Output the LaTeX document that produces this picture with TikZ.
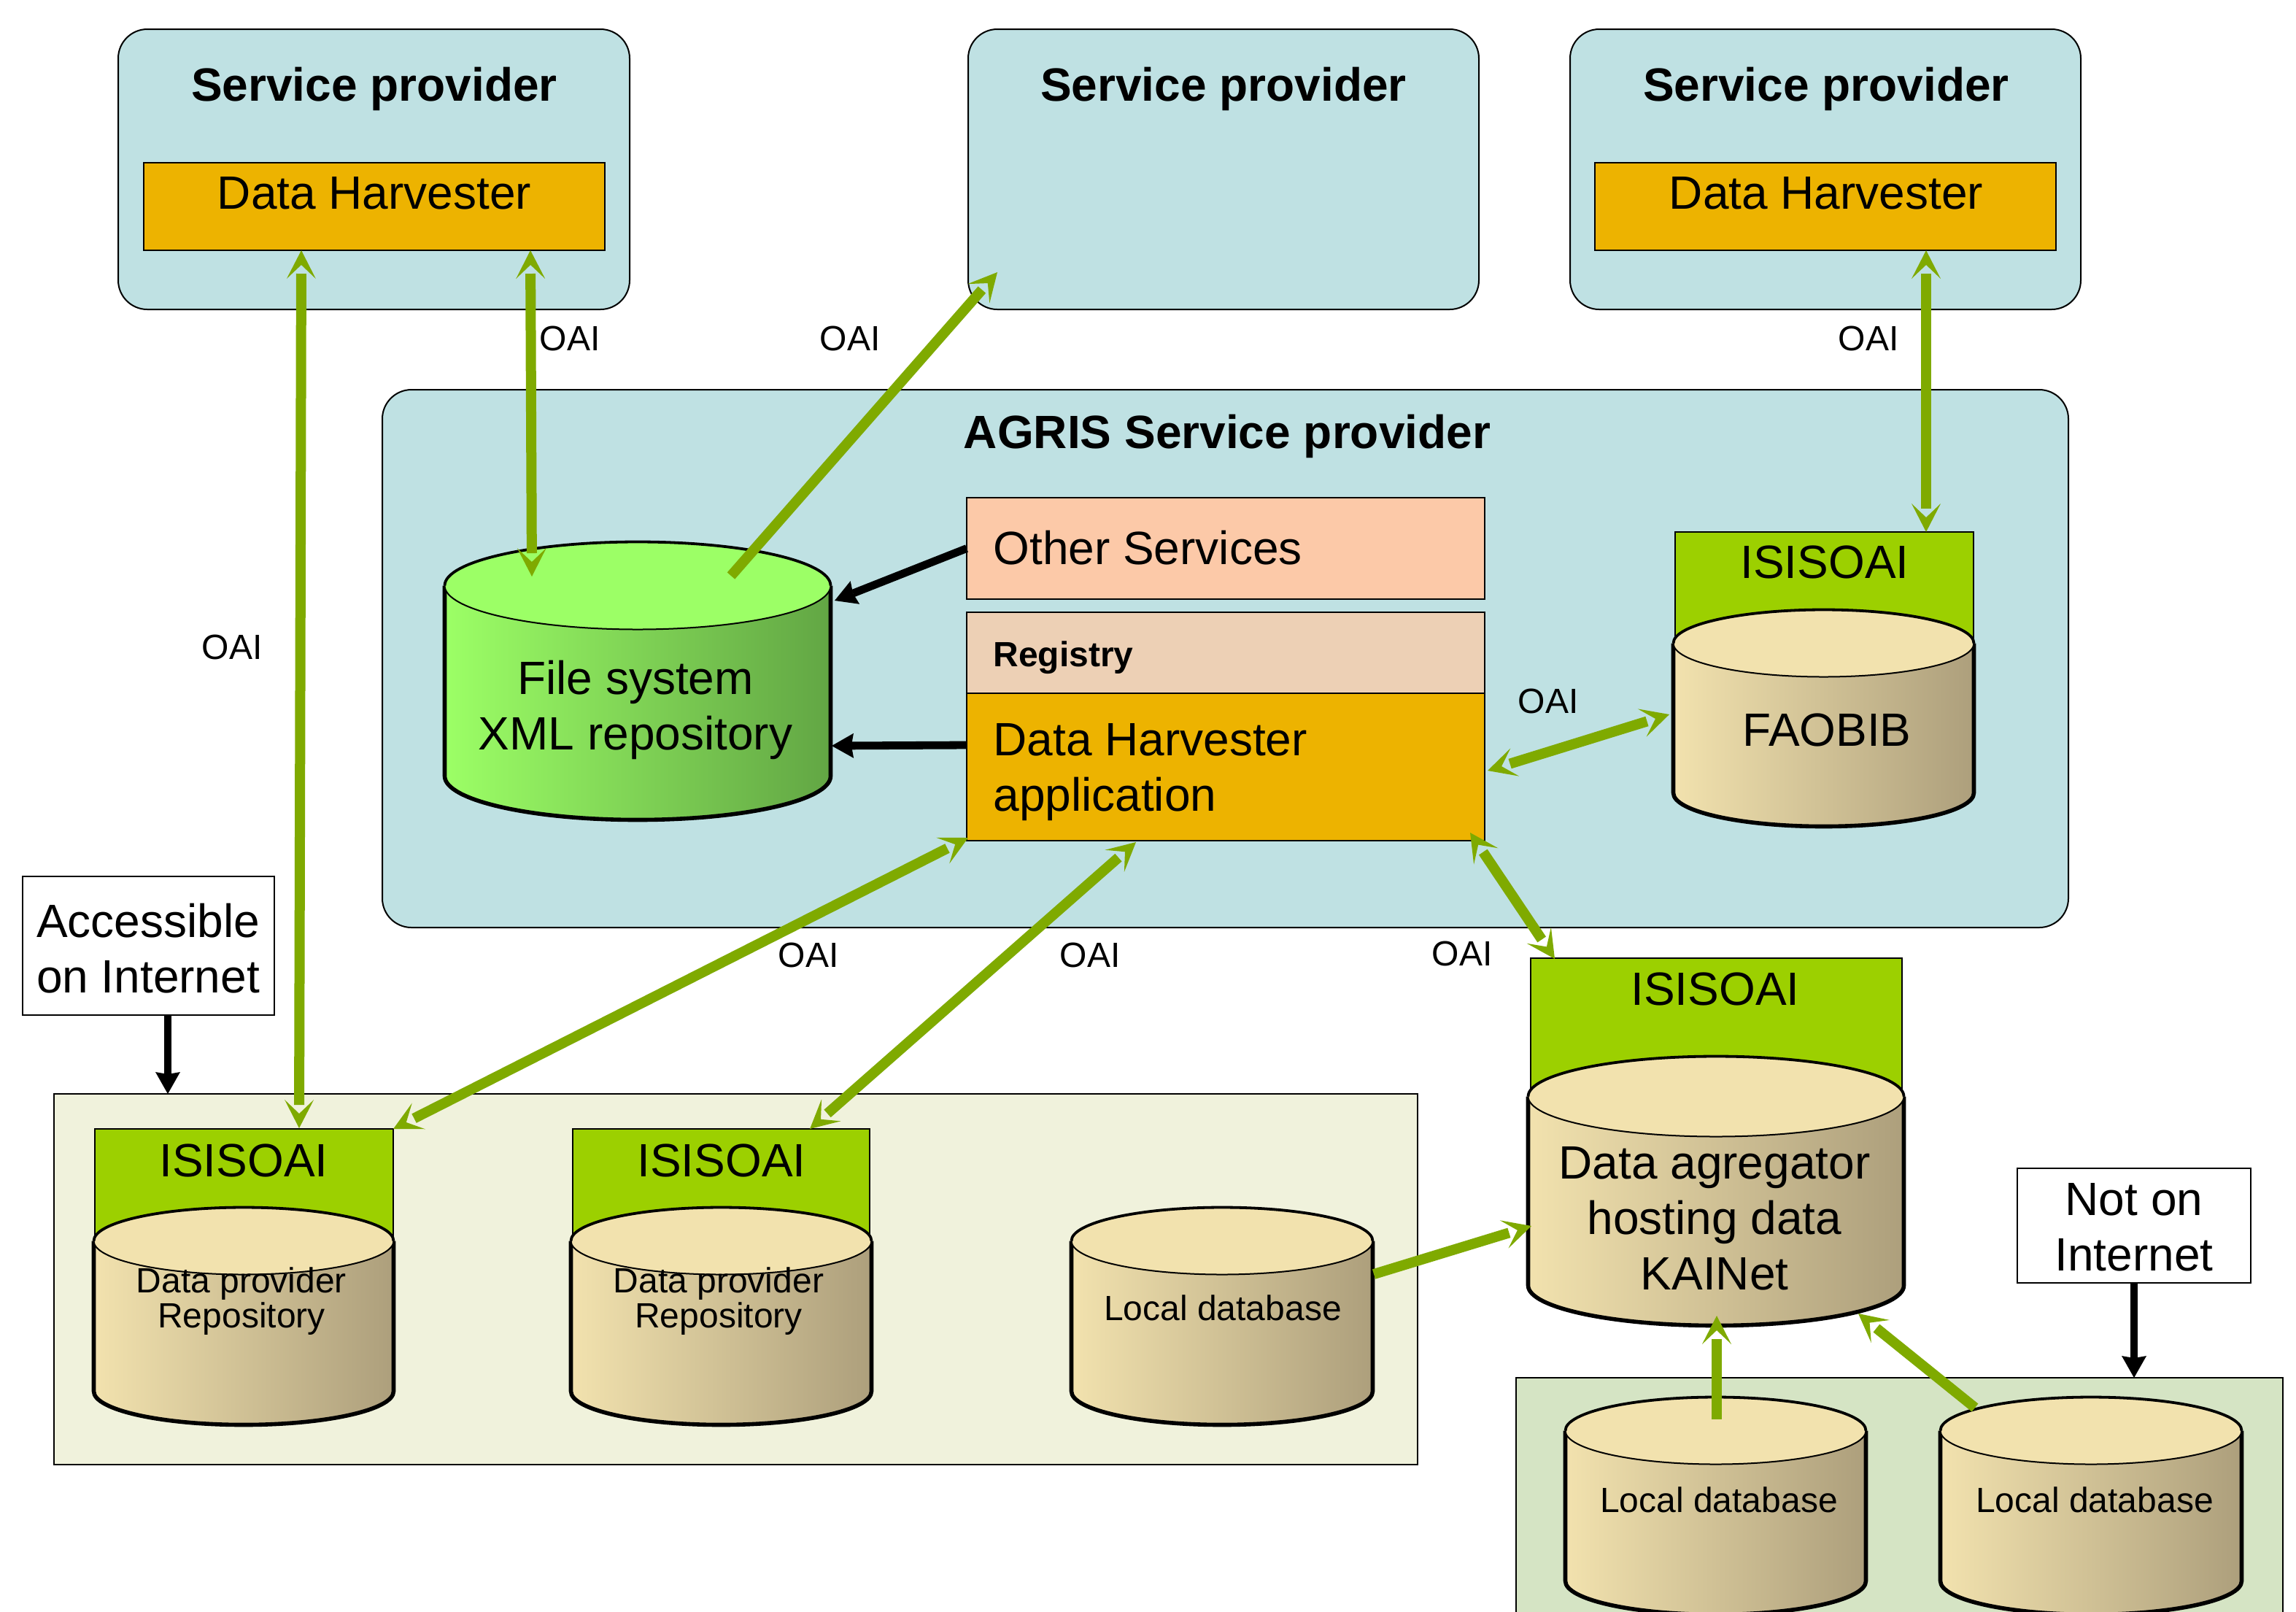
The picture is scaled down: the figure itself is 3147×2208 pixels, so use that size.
\documentclass[tikz,border=0pt]{standalone}
\usepackage{fontspec}
\setmainfont{Liberation Sans}
\usetikzlibrary{arrows.meta,calc}
\definecolor{panel}{HTML}{BFE1E3}
\definecolor{harvest}{HTML}{EDB300}
\definecolor{isis}{HTML}{9CD000}
\definecolor{other}{HTML}{FCC9A8}
\definecolor{regis}{HTML}{EDD0B5}
\definecolor{grp}{HTML}{F0F2DC}
\definecolor{grn}{HTML}{D5E4C4}
\definecolor{oaig}{HTML}{7FAA00}
\definecolor{bgl}{HTML}{F2E2AE}
\definecolor{bgr}{HTML}{AD9F7C}
\definecolor{fsl}{HTML}{9CFF66}
\definecolor{fsr}{HTML}{62A644}
\pgfdeclarearrow{
  name=OAIH,
  setup code={\pgfarrowssettipend{0pt}\pgfarrowssetlineend{-16pt}\pgfarrowssetvisualbackend{-10pt}\pgfarrowssetbackend{-19.5pt}},
  drawing code={\pgfsetfillcolor{oaig}\pgfpathmoveto{\pgfqpoint{0pt}{0pt}}\pgfpathlineto{\pgfqpoint{-19.5pt}{10pt}}\pgfpathlineto{\pgfqpoint{-10pt}{0pt}}\pgfpathlineto{\pgfqpoint{-19.5pt}{-10pt}}\pgfpathclose\pgfusepathqfill},
}
\tikzset{
  big/.style={font=\fontsize{32}{38}\selectfont,inner sep=0pt,align=center},
  bigb/.style={font=\fontsize{32}{38}\selectfont\bfseries,inner sep=0pt,align=center},
  small/.style={font=\fontsize{24}{24}\selectfont,inner sep=0pt,align=center},
  oai/.style={draw=oaig,line width=7pt,-{OAIH}},
  oaib/.style={draw=oaig,line width=7pt,{OAIH}-{OAIH}},
  blk/.style={draw=black,line width=5.4pt,-{Stealth[length=15pt,width=17pt,inset=1.5pt,line width=0pt]}},
  boxl/.style={draw=black,line width=1pt},
}
% name, x1, y1, x2, y2, options
\newcommand\bx[6]{\node[boxl,rectangle,inner sep=0pt,outer sep=0pt,minimum width={(#4-#2)*0.5pt},minimum height={(#5-#3)*0.5pt},#6] (#1) at ({(#2+#4)/2},{(#3+#5)/2}) {};}
% name, x1, x2, ytop, ybot, ry, left, right
\newcommand\cyl[8]{%
  \pgfmathsetmacro\crx{(#3-#2-3)/4}\pgfmathsetmacro\cry{#6/2}%
  \pgfmathsetmacro\cxa{#2+1.5}\pgfmathsetmacro\cxb{#3-1.5}%
  \pgfmathsetmacro\cyc{#4+0.5+#6}\pgfmathsetmacro\cyb{#5-1.5-#6}%
  \path[left color=#7,right color=#8] (\cxa,\cyc) -- (\cxa,\cyb) arc[start angle=180,end angle=360,x radius=\crx pt,y radius=\cry pt] -- (\cxb,\cyc) arc[start angle=0,end angle=180,x radius=\crx pt,y radius=\cry pt] -- cycle;
  \draw[line width=2.8pt,line join=round] (\cxa,\cyc) -- (\cxa,\cyb) arc[start angle=180,end angle=360,x radius=\crx pt,y radius=\cry pt] -- (\cxb,\cyc);
  \filldraw[fill=#7,draw=black,line width=1pt] (\cxa,\cyc) arc[start angle=180,end angle=540,x radius=\crx pt,y radius=\cry pt];
  \draw[line width=1.9pt] (\cxa,\cyc) arc[start angle=180,end angle=0,x radius=\crx pt,y radius=\cry pt];
  \node[inner sep=0pt,outer sep=0pt,minimum width={(#3-#2)*0.5pt},minimum height={(#5-#4)*0.5pt}] (#1) at ({(#2+#3)/2},{(#4+#5)/2}) {};}
\begin{document}
\begin{tikzpicture}[x=0.5pt,y=-0.5pt]
\clip (0,0) rectangle (3147,2208);
\fill[white] (0,0) rectangle (3147,2208);
% panels
\bx{sp1}{162}{40}{863}{424}{fill=panel,rounded corners=20pt}
\bx{sp2}{1327}{40}{2027}{424}{fill=panel,rounded corners=20pt}
\bx{sp3}{2152}{40}{2852}{424}{fill=panel,rounded corners=20pt}
\bx{h1}{197}{223}{829}{343}{fill=harvest}
\bx{h3}{2186}{223}{2818}{343}{fill=harvest}
\bx{ag}{524}{534}{2835}{1271}{fill=panel,rounded corners=20pt}
\bx{oth}{1325}{682}{2035}{821}{fill=other}
\bx{reg}{1325}{839}{2035}{950}{fill=regis}
\bx{harv}{1325}{950}{2035}{1152}{fill=harvest}
\bx{gl}{74}{1499}{1943}{2007}{fill=grp}
\bx{gr}{2078}{1888}{3129}{2240}{fill=grn}
\bx{acc}{31}{1201}{376}{1391}{fill=white}
\bx{noti}{2765}{1601}{3085}{1758}{fill=white}
% isisoai tabs
\bx{isf}{2296}{729}{2705}{890}{fill=isis}
\bx{isk}{2098}{1313}{2607}{1510}{fill=isis}
\bx{is1}{130}{1547}{539}{1710}{fill=isis}
\bx{is2}{785}{1547}{1192}{1710}{fill=isis}
% cylinders
\cyl{fs}{608}{1140}{742}{1125}{60}{fsl}{fsr}
\cyl{fao}{2292}{2707}{835}{1134}{46}{bgl}{bgr}
\cyl{agg}{2093}{2611}{1447}{1818}{55}{bgl}{bgr}
\cyl{c1}{127}{541}{1654}{1954}{46}{bgl}{bgr}
\cyl{c2}{781}{1196}{1654}{1954}{46}{bgl}{bgr}
\cyl{loc}{1467}{1883}{1654}{1954}{46}{bgl}{bgr}
\cyl{loc2}{2144}{2559}{1914}{2214}{46}{bgl}{bgr}
\cyl{loc3}{2658}{3074}{1914}{2214}{46}{bgl}{bgr}
% texts
\node[bigb] (t1) at (513,122) {Service provider};
\node[bigb] (t2) at (1677,122) {Service provider};
\node[bigb] (t3) at (2503,122) {Service provider};
\node[bigb] (t4) at (1682,598) {AGRIS Service provider};
\node[big] (t5) at (513,265) {Data Harvester};
\node[big] (t6) at (2503,265) {Data Harvester};
\node[big,anchor=west] (t7) at (1361,751) {Other Services};
\node[small,anchor=west,font=\fontsize{24}{24}\selectfont\bfseries] (t8) at (1361,901) {Registry};
\node[big,anchor=west,align=left] (t9) at (1361,1058) {Data Harvester\\application};
\node[big] (t10) at (2501,770) {ISISOAI};
\node[big] (t11) at (2351,1355) {ISISOAI};
\node[big] (t12) at (334,1590) {ISISOAI};
\node[big] (t13) at (989,1590) {ISISOAI};
\node[big] (t14) at (871,973) {File system\\XML repository};
\node[big] (t15) at (2504,1000) {FAOBIB};
\node[big] (t16) at (2350,1670) {Data agregator\\hosting data\\KAINet};
\node[small] (t17) at (331,1783) {Data provider\\Repository};
\node[small] (t18) at (985,1783) {Data provider\\Repository};
\node[small] (t19) at (1676,1792) {Local database};
\node[small] (t20) at (2356,2055) {Local database};
\node[small] (t21) at (2871,2055) {Local database};
\node[big] (t22) at (203,1300) {Accessible\\on Internet};
\node[big] (t23) at (2925,1682) {Not on\\Internet};
\node[small] (o1) at (781,464) {OAI};
\node[small] (o2) at (1165,464) {OAI};
\node[small] (o3) at (2561,464) {OAI};
\node[small] (o4) at (318,887) {OAI};
\node[small] (o5) at (2122,961) {OAI};
\node[small] (o6) at (1108,1309) {OAI};
\node[small] (o7) at (1494,1309) {OAI};
\node[small] (o8) at (2004,1307) {OAI};
% connectors
\draw[oaib] ($(h1.south west)+(216,0)$) -- ($(is1.north west)+(280,-1)$);
\draw[oaib] ($(h1.south west)+(530,0)$) -- ($(fs.north west)+(121,48)$);
\draw[oai] ($(fs.north west)+(394,47)$) -- ($(sp2.south west)+(40,-51)$);
\draw[oaib] ($(h3.south west)+(454,0)$) -- ($(isf.north west)+(344,0)$);
\draw[oaib] ($(harv.south east)+(4,-96)$) -- ($(fao.north west)+(-4,144)$);
\draw[oaib] ($(harv.south east)+(-20,-11)$) -- ($(isk.north west)+(33,1)$);
\draw[oaib] ($(harv.south west)+(2,-4)$) -- (is1.north east);
\draw[oaib] ($(harv.south west)+(232,2)$) -- ($(is2.north east)+(-82,0)$);
\draw[oai] ($(loc.north east)+(0,92)$) -- ($(agg.north west)+(6,233)$);
\draw[oai] ($(loc2.north west)+(209,31)$) -- ($(agg.south west)+(260,-15)$);
\draw[oai] ($(loc3.north west)+(49,15)$) -- ($(agg.south east)+(-64,-18)$);
\draw[blk] (oth.west) -- ($(fs.north east)+(4,81)$);
\draw[blk] ($(harv.north west)+(0,71)$) -- ($(fs.north east)+(0,280)$);
\draw[blk] ($(acc.south west)+(199,0)$) -- ($(gl.north west)+(156,0)$);
\draw[blk] (noti.south) -- ($(gr.north west)+(847,0)$);
\end{tikzpicture}
\end{document}
